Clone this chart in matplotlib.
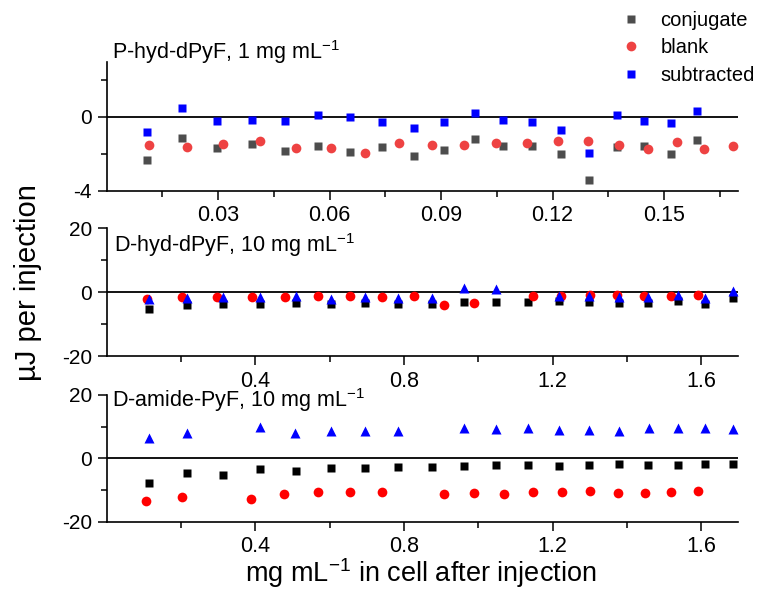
import matplotlib
matplotlib.use("Agg")
import matplotlib.pyplot as plt
from matplotlib.lines import Line2D

plt.rcParams['font.family'] = ['Liberation Sans', 'DejaVu Sans']
plt.rcParams['axes.unicode_minus'] = False
plt.rcParams['mathtext.fontset'] = 'custom'
plt.rcParams['mathtext.rm'] = 'Liberation Sans'

# ---------------- data ----------------
# Panel 1: P-hyd-dPyF, 1 mg/mL
p1_conj_x = [0.0108, 0.0203, 0.0298, 0.0390, 0.0481, 0.0569, 0.0656, 0.0741, 0.0826, 0.0909,
             0.0990, 0.1068, 0.1146, 0.1224, 0.1298, 0.1373, 0.1446, 0.1518, 0.1590]
p1_conj_y = [-2.36, -1.15, -1.68, -1.44, -1.86, -1.55, -1.92, -1.65, -2.10, -1.81,
             -1.21, -1.55, -1.55, -1.99, -3.44, -1.63, -1.55, -1.99, -1.23]
p1_sub_y = [-0.84, 0.49, -0.24, -0.18, -0.20, 0.13, 0.02, -0.26, -0.62, -0.28,
            0.20, -0.17, -0.29, -0.73, -1.97, 0.09, -0.24, -0.31, 0.33]
p1_blank_x = [0.0114, 0.0215, 0.0314, 0.0412, 0.0509, 0.0603, 0.0696, 0.0787, 0.0875, 0.0963,
              0.1048, 0.1132, 0.1215, 0.1296, 0.1378, 0.1457, 0.1535, 0.1609, 0.1685]
p1_blank_y = [-1.52, -1.63, -1.44, -1.28, -1.68, -1.68, -1.97, -1.43, -1.50, -1.54,
              -1.41, -1.41, -1.28, -1.30, -1.52, -1.74, -1.37, -1.72, -1.55]

# Panel 2: D-hyd-dPyF, 10 mg/mL
p2_conj_x = [0.1137, 0.2151, 0.3139, 0.4117, 0.5087, 0.6029, 0.6954, 0.7852, 0.8749, 0.9629,
             1.0473, 1.1335, 1.2179, 1.2987, 1.3777, 1.4576, 1.5366, 1.6111, 1.6865]
p2_conj_y = [-5.15, -3.89, -3.79, -3.79, -3.47, -3.79, -3.36, -3.79, -3.58, -2.94,
             -2.94, -3.15, -2.84, -2.94, -3.26, -3.36, -2.73, -3.79, -1.79]
p2_sub_x = [0.1137, 0.2151, 0.3139, 0.4117, 0.5087, 0.6029, 0.6954, 0.7852, 0.8749, 0.9629,
            1.0473, 1.2179, 1.2987, 1.3777, 1.4576, 1.5366, 1.6111, 1.6865]
p2_sub_y = [-2.21, -1.89, -1.58, -1.58, -1.26, -2.00, -1.37, -1.79, -1.79, 1.37,
            0.95, -1.05, -1.05, -1.37, -1.58, -0.95, -1.89, 0.21]
p2_blank_x = [0.1074, 0.2016, 0.2968, 0.3902, 0.4799, 0.5697, 0.6559, 0.7421, 0.8274, 0.9090,
              0.9898, 1.1470, 1.2233, 1.3005, 1.3732, 1.4468, 1.5186, 1.5904]
p2_blank_y = [-2.21, -1.47, -1.47, -1.47, -1.37, -1.05, -1.26, -1.47, -1.26, -4.00,
              -3.36, -1.16, -1.26, -0.74, -0.95, -1.16, -1.26, -0.95]

# Panel 3: D-amide-PyF, 10 mg/mL
p3_conj_x = [0.1137, 0.2151, 0.3139, 0.4117, 0.5087, 0.6029, 0.6954, 0.7852, 0.8749, 0.9629,
             1.0473, 1.1335, 1.2179, 1.2987, 1.3777, 1.4576, 1.5366, 1.6111, 1.6865]
p3_conj_y = [-7.71, -4.64, -5.28, -3.48, -4.01, -2.95, -2.95, -2.74, -2.74, -2.32,
             -2.21, -2.21, -2.53, -2.11, -1.90, -2.00, -2.11, -1.68, -1.90]
p3_sub_x = [0.1137, 0.2151, 0.4135, 0.5078, 0.6038, 0.6954, 0.7852, 0.9629, 1.0482, 1.1335,
            1.2161, 1.2987, 1.3777, 1.4585, 1.5366, 1.6111, 1.6865]
p3_sub_y = [6.57, 8.16, 9.96, 7.95, 8.48, 8.58, 8.58, 9.43, 9.22, 9.64,
            9.01, 9.01, 8.79, 9.43, 9.43, 9.64, 9.11]
p3_blank_x = [0.1056, 0.2016, 0.3884, 0.4781, 0.5679, 0.6550, 0.7421, 0.9090, 0.9898, 1.0688,
              1.1470, 1.2251, 1.3005, 1.3750, 1.4477, 1.5195, 1.5914]
p3_blank_y = [-13.43, -12.05, -12.69, -11.31, -10.78, -10.78, -10.78, -11.31, -10.89, -11.21,
              -10.78, -10.47, -10.25, -10.89, -10.89, -10.57, -10.36]

titles = ["P-hyd-dPyF, 1 mg mL$^{-1}$", "D-hyd-dPyF, 10 mg mL$^{-1}$", "D-amide-PyF, 10 mg mL$^{-1}$"]
legend_labels = ["conjugate", "blank", "subtracted"]

# ---------------- figure ----------------
W, H = 758, 589
fig = plt.figure(figsize=(W / 100, H / 100), dpi=100)

def fx(px):
    return px / W

def fy(py):
    return 1 - py / H

left, right = 106.7, 738.3
boxes = [(61.7, 190.7), (228.3, 356.0), (395.0, 521.7)]
axes = []
for top, bot in boxes:
    ax = fig.add_axes([fx(left), fy(bot), fx(right) - fx(left), (bot - top) / H])
    axes.append(ax)

gray = '#4d4d4d'
lred = '#ee4242'
blue = '#0000ff'

def style(ax):
    for s in ['top', 'right']:
        ax.spines[s].set_visible(False)
    for s in ['left', 'bottom']:
        ax.spines[s].set_linewidth(1.2)
    ax.axhline(0, color='black', lw=1.3, zorder=1)
    ax.tick_params(which='major', direction='out', length=6.5, width=1.1, labelsize=15, pad=4)
    ax.tick_params(axis='x', which='major', labelsize=15.5)
    ax.tick_params(which='minor', direction='out', length=4, width=1.1)
    ax.patch.set_alpha(0)

ms_sq, ms_ci, ms_tr = 6.0, 7.0, 7.8

# panel 1
ax = axes[0]
style(ax)
ax.plot(p1_conj_x, p1_conj_y, 's', color=gray, ms=ms_sq, mec='none', zorder=3)
ax.plot(p1_blank_x, p1_blank_y, 'o', color=lred, ms=ms_ci, mec='none', zorder=4)
ax.plot(p1_conj_x, p1_sub_y, 's', color=blue, ms=ms_sq, mec='none', zorder=5)
ax.set_xlim(0, 0.17)
ax.set_ylim(-4, 3)
ax.set_xticks([0.03, 0.06, 0.09, 0.12, 0.15])
ax.set_xticklabels(['0.03', '0.06', '0.09', '0.12', '0.15'])
ax.set_xticks([0.015, 0.045, 0.075, 0.105, 0.135, 0.165], minor=True)
ax.set_yticks([-4, 0])
ax.set_yticklabels(['-4', '0'])
ax.set_yticks([-2, 2], minor=True)

# panels 2, 3
for ax, (cx, cy, sx, sy, bx, by) in zip(axes[1:], [
        (p2_conj_x, p2_conj_y, p2_sub_x, p2_sub_y, p2_blank_x, p2_blank_y),
        (p3_conj_x, p3_conj_y, p3_sub_x, p3_sub_y, p3_blank_x, p3_blank_y)]):
    style(ax)
    ax.plot(cx, cy, 's', color='black', ms=ms_sq, mec='none', zorder=3)
    ax.plot(bx, by, 'o', color='#ff0000', ms=ms_ci, mec='none', zorder=4)
    ax.plot(sx, sy, '^', color=blue, ms=ms_tr, mec='none', zorder=5)
    ax.set_xlim(0, 1.7)
    ax.set_ylim(-20, 20)
    ax.set_xticks([0.4, 0.8, 1.2, 1.6])
    ax.set_xticklabels(['0.4', '0.8', '1.2', '1.6'])
    ax.set_xticks([0.2, 0.6, 1.0, 1.4], minor=True)
    ax.set_yticks([-20, 0, 20])
    ax.set_yticklabels(['-20', '0', '20'])
    ax.set_yticks([-10, 10], minor=True)

# panel titles
fig.text(fx(112), fy(52), titles[0], fontsize=15.5, va='center', ha='left')
fig.text(fx(114), fy(245), titles[1], fontsize=15.5, va='center', ha='left')
fig.text(fx(112), fy(400), titles[2], fontsize=15.5, va='center', ha='left')

# axis labels
fig.text(fx(28), fy(283), "\u00b5J per injection", rotation=90, fontsize=21, va='center', ha='center')
fig.text(fx(421), fy(573), "mg mL$^{-1}$ in cell after injection", fontsize=19.5, va='center', ha='center')

# legend
handles = [Line2D([], [], ls='none', marker='s', color=gray, ms=ms_sq, mec='none'),
           Line2D([], [], ls='none', marker='o', color=lred, ms=ms_ci, mec='none'),
           Line2D([], [], ls='none', marker='s', color=blue, ms=ms_sq, mec='none')]
fig.legend(handles, legend_labels, loc='upper left', bbox_to_anchor=(fx(621), fy(11)),
           frameon=False, borderaxespad=0, borderpad=0, handlelength=1.0,
           handletextpad=0.95, labelspacing=0.42, fontsize=14.5)

fig.savefig('out.png', dpi=100)
